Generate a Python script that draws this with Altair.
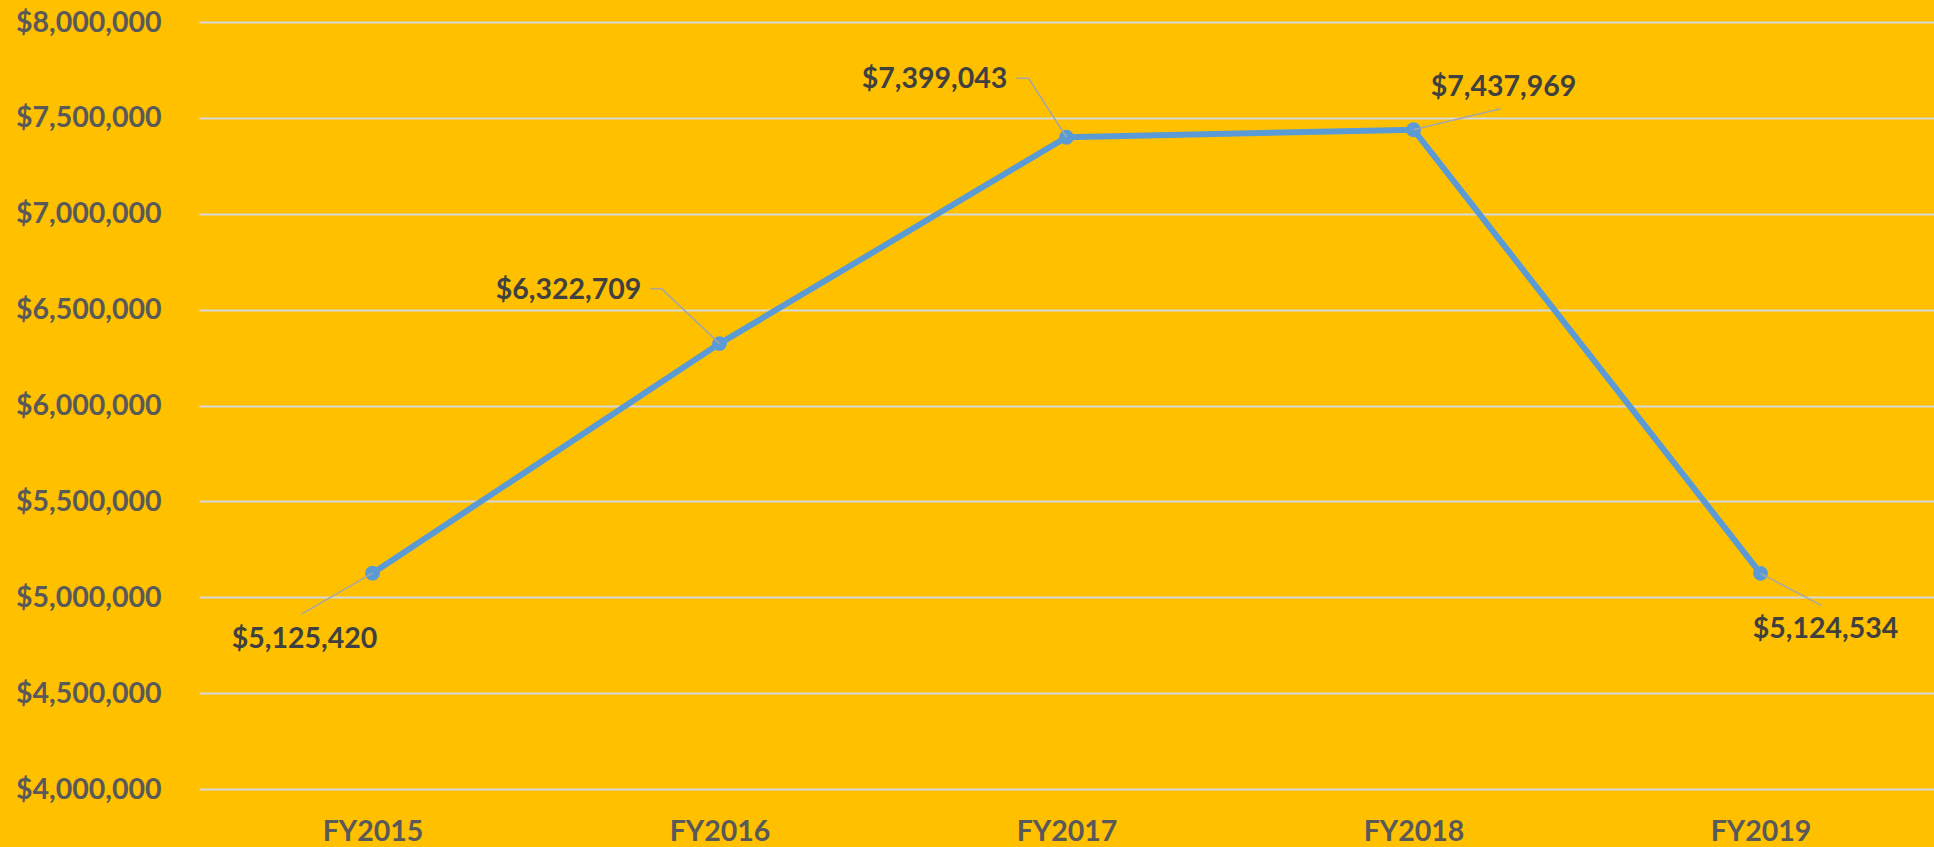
import altair as alt
import pandas as pd

years = ["FY2015", "FY2016", "FY2017", "FY2018", "FY2019"]
values = [5125420, 6322709, 7399043, 7437969, 5124534]
labels = ["$5,125,420", "$6,322,709", "$7,399,043", "$7,437,969", "$5,124,534"]

# label placement offsets (pixels from point)
label_dx = [-68, -151, -132, 90, 65]
label_dy = [66, -54, -58, -43, 56]
# leader line: point -> elbow, then elbow -> end (horizontal)
elbow_dx = [-71, -58, -38, 87, 61]
elbow_dy = [41, -55, -59, -21, 32]
end_dx = [-71, -69, -50, 87, 61]

y_ticks = [4000000, 4500000, 5000000, 5500000, 6000000, 6500000, 7000000, 7500000, 8000000]

df = pd.DataFrame({
    "year": years, "value": values, "label": labels,
    "ldx": label_dx, "ldy": label_dy,
    "ex": elbow_dx, "ey": elbow_dy, "hx": end_dx,
})

FONT = "Lato"
FS = 28.5
x_enc = alt.X("year:N", sort=years, scale=alt.Scale(type="point", padding=0.5),
              axis=alt.Axis(title=None, labelAngle=0, ticks=False, tickSize=0, domain=False,
                            labelPadding=28, labelFontSize=FS, labelFont=FONT,
                            labelFontWeight="bold", labelColor="#595959", grid=False))
y_enc = alt.Y("value:Q", scale=alt.Scale(domain=[4000000, 8000000], nice=False, zero=False),
              axis=alt.Axis(title=None, values=y_ticks, format="$,.0f", ticks=False, tickSize=0,
                            domain=False, labelPadding=38, labelFontSize=FS, labelFont=FONT,
                            labelFontWeight="bold", labelColor="#595959",
                            grid=True, gridColor="#D9D9D9", gridWidth=2))

base = alt.Chart(df)

line = base.mark_line(color="#5B9BD5", strokeWidth=6).encode(x=x_enc, y=y_enc)
pts = base.mark_point(filled=True, shape="circle", size=220, color="#5B9BD5", opacity=1).encode(
    x=alt.X("year:N", sort=years), y="value:Q")

lead1 = base.mark_rule(color="#A6A6A6", strokeWidth=1.5,
                       x2Offset=alt.expr("datum.ex"), y2Offset=alt.expr("datum.ey")).encode(
    x=alt.X("year:N", sort=years), y="value:Q", x2="year:N", y2="value:Q")
lead2 = base.mark_rule(color="#A6A6A6", strokeWidth=1.5,
                       xOffset=alt.expr("datum.ex"), yOffset=alt.expr("datum.ey"),
                       x2Offset=alt.expr("datum.hx"), y2Offset=alt.expr("datum.ey")).encode(
    x=alt.X("year:N", sort=years), y="value:Q", x2="year:N", y2="value:Q")

text = base.mark_text(font=FONT, fontSize=FS, fontWeight="bold", color="#404040",
                      align="center", baseline="middle",
                      dx=alt.expr("datum.ldx"), dy=alt.expr("datum.ldy")).encode(
    x=alt.X("year:N", sort=years), y="value:Q", text="label:N")

chart = alt.layer(line, pts, lead1, lead2, text).properties(
    width=1735, height=767,
    background="#FFC000",
    autosize=alt.AutoSizeParams(type="none"),
    padding={"left": 199, "top": 22, "right": 0, "bottom": 58},
).configure_view(stroke=None)

chart.save("out.html", embed_options={"renderer": "svg", "actions": False})
